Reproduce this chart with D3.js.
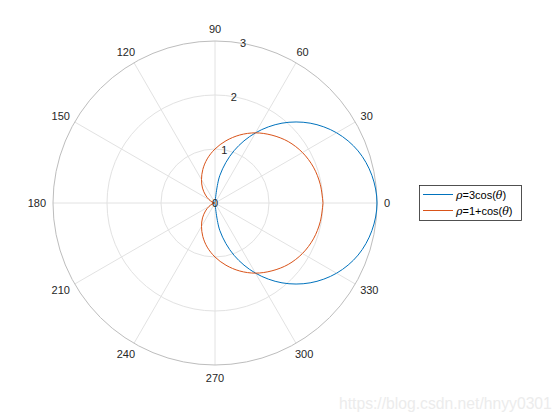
<!DOCTYPE html>
<html>
<head>
<meta charset="utf-8">
<script src="https://cdn.jsdelivr.net/npm/d3@7/dist/d3.min.js"></script>
<style>
  html, body { margin: 0; padding: 0; background: #fff; }
  svg { display: block; }
  text { font-family: "Liberation Sans", Arial, sans-serif; }
</style>
</head>
<body>
<svg id="chart" width="560" height="420"></svg>
<script>
// ---- data ----
const angleTicks = [0, 30, 60, 90, 120, 150, 180, 210, 240, 270, 300, 330];
const radialTicks = [0, 1, 2, 3];
const radialMax = 3;

// series 1: rho = 3cos(theta), sampled angles (deg) and read radii
const theta1 = [-90, -80, -70, -60, -50, -40, -30, -20, -10, 0, 10, 20, 30, 40, 50, 60, 70, 80, 90];
const rho1 = [0, 0.52, 1.03, 1.5, 1.93, 2.3, 2.6, 2.82, 2.95, 3, 2.95, 2.82, 2.6, 2.3, 1.93, 1.5, 1.03, 0.52, 0];

// series 2: rho = 1+cos(theta)
const theta2 = [0, 10, 20, 30, 40, 50, 60, 70, 80, 90, 100, 110, 120, 130, 140, 150, 160, 170, 180,
                190, 200, 210, 220, 230, 240, 250, 260, 270, 280, 290, 300, 310, 320, 330, 340, 350, 360];
const rho2 = [2, 1.98, 1.94, 1.87, 1.77, 1.64, 1.5, 1.34, 1.17, 1, 0.83, 0.66, 0.5, 0.36, 0.23, 0.13, 0.06, 0.02, 0,
              0.02, 0.06, 0.13, 0.23, 0.36, 0.5, 0.66, 0.83, 1, 1.17, 1.34, 1.5, 1.64, 1.77, 1.87, 1.94, 1.98, 2];

const seriesNames = ["ρ=3cos(θ)", "ρ=1+cos(θ)"];
const seriesColors = ["#0072BD", "#D95319"];
const watermark = "https://blog.csdn.net/hnyy0301";

// ---- layout ----
const cx = 215, cy = 203, R = 162;
const svg = d3.select("#chart");
const g = svg.append("g").attr("transform", `translate(${cx},${cy})`);

const r = d3.scaleLinear().domain([0, radialMax]).range([0, R]);
// angle scale: degrees (math convention, counterclockwise from east) -> radians for d3.lineRadial (clockwise from north)
const a = d3.scaleLinear().domain([0, 360]).range([Math.PI / 2, Math.PI / 2 - 2 * Math.PI]);

const gridColor = "#e2e2e2";
const axisColor = "#bdbdbd";
const textColor = "#262626";

// spokes
g.selectAll("line.spoke").data(angleTicks).enter().append("line")
  .attr("class", "spoke")
  .attr("x1", 0).attr("y1", 0)
  .attr("x2", d => r(radialMax) * Math.cos(d * Math.PI / 180))
  .attr("y2", d => -r(radialMax) * Math.sin(d * Math.PI / 180))
  .attr("stroke", gridColor).attr("stroke-width", 1);

// inner rings
g.selectAll("circle.ring").data(radialTicks.filter(d => d > 0 && d < radialMax)).enter().append("circle")
  .attr("class", "ring")
  .attr("r", d => r(d))
  .attr("fill", "none").attr("stroke", gridColor).attr("stroke-width", 1);

// outer ring
g.append("circle").attr("r", r(radialMax))
  .attr("fill", "none").attr("stroke", axisColor).attr("stroke-width", 1);

// curves
const line = d3.lineRadial()
  .angle(d => a(d[0]))
  .radius(d => r(d[1]))
  .curve(d3.curveCatmullRom);

const data1 = theta1.map((t, i) => [t, rho1[i]]);
const data2 = theta2.map((t, i) => [t, rho2[i]]);

g.append("path").datum(data1).attr("d", line)
  .attr("fill", "none").attr("stroke", seriesColors[0]).attr("stroke-width", 1);
g.append("path").datum(data2).attr("d", line)
  .attr("fill", "none").attr("stroke", seriesColors[1]).attr("stroke-width", 1);

// radial tick labels at 80 degrees
const rlabAng = 80 * Math.PI / 180;
g.selectAll("text.rtick").data(radialTicks).enter().append("text")
  .attr("class", "rtick")
  .attr("x", d => r(d) * Math.cos(rlabAng))
  .attr("y", d => -r(d) * Math.sin(rlabAng))
  .attr("text-anchor", "middle")
  .attr("dominant-baseline", "central")
  .attr("font-size", 11)
  .attr("fill", textColor)
  .text(d => d);

// angle tick labels
const pad = 7, fs = 11;
g.selectAll("text.atick").data(angleTicks).enter().append("text")
  .attr("class", "atick")
  .attr("font-size", fs)
  .attr("fill", textColor)
  .attr("text-anchor", "middle")
  .attr("dominant-baseline", "central")
  .text(d => d)
  .each(function (d) {
    const w = this.getComputedTextLength();
    const h = 11;
    const c = Math.cos(d * Math.PI / 180), s = Math.sin(d * Math.PI / 180);
    const rr = r(radialMax) + pad;
    d3.select(this)
      .attr("x", rr * c + (w / 2) * c)
      .attr("y", -(rr * s + (h / 2) * s));
  });

// legend
const lg = svg.append("g").attr("transform", "translate(419,185)");
lg.append("rect").attr("x", 0.5).attr("y", 0.5).attr("width", 102).attr("height", 35)
  .attr("fill", "#fff").attr("stroke", "#262626").attr("stroke-width", 0.8);
seriesNames.forEach((name, i) => {
  const y = 9.5 + i * 16;
  lg.append("line").attr("x1", 4).attr("x2", 34).attr("y1", y).attr("y2", y)
    .attr("stroke", seriesColors[i]).attr("stroke-width", 1);
  const t = lg.append("text").attr("x", 37).attr("y", y).attr("dominant-baseline", "central")
    .attr("font-size", 11).attr("fill", "#000");
  const m = name.match(/^ρ(=.*\()θ\)$/);
  t.append("tspan").attr("font-style", "italic").attr("font-family", "'DejaVu Serif', serif").text("ρ");
  t.append("tspan").text(m[1]);
  t.append("tspan").attr("font-style", "italic").attr("font-family", "'DejaVu Serif', serif").text("θ");
  t.append("tspan").text(")");
});

// watermark
svg.append("text").attr("x", 339).attr("y", 409)
  .attr("font-size", 15.7).attr("fill", "#ececec")
  .text(watermark);
</script>
</body>
</html>
